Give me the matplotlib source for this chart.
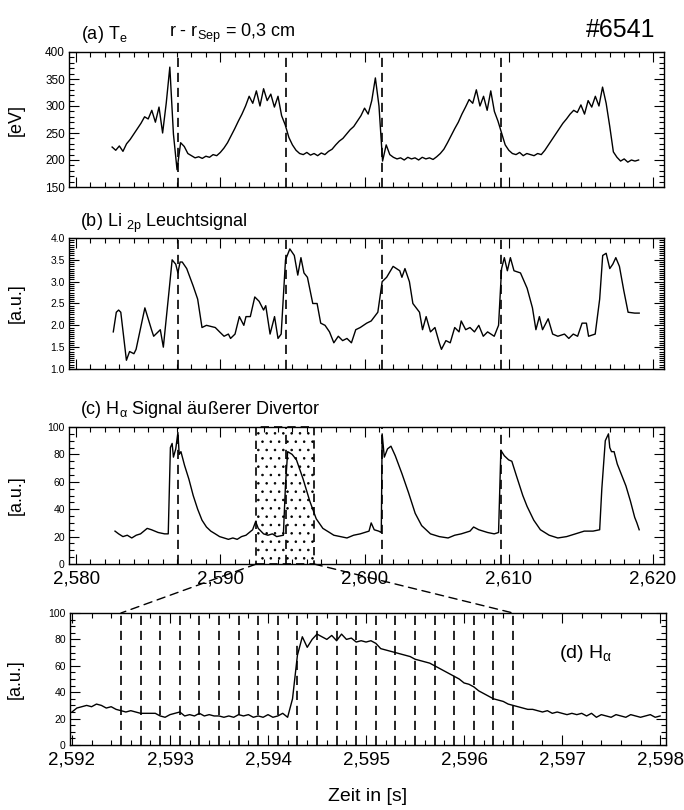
import numpy as np
import matplotlib
matplotlib.use('Agg')
import matplotlib.pyplot as plt
import matplotlib.ticker as mtick
from matplotlib.patches import Rectangle, ConnectionPatch

plt.rcParams['font.family'] = ['Liberation Sans', 'DejaVu Sans']
plt.rcParams['mathtext.fontset'] = 'custom'
plt.rcParams['mathtext.rm'] = 'Liberation Sans'
plt.rcParams['mathtext.it'] = 'Liberation Sans:italic'
plt.rcParams['hatch.linewidth'] = 0.6

T0 = 2.580  # s, time origin of the ms offsets below

# (a) Te, sampled every 0.25 ms starting at 2.5 ms
te_start_ms = 2.5
te_step_ms = 0.25
te_values = [224, 218,
             226, 216, 230, 238,
             248, 258, 268, 280,
             276, 292, 270, 298,
             250, 305, 372, 248,
             182, 232, 225, 212,
             208, 204, 206, 203,
             207, 205, 210, 208,
             214, 222, 232, 245,
             258, 272, 285, 300,
             318, 305, 328, 300,
             332, 310, 322, 298,
             318, 282, 265, 242,
             228, 218, 212, 210,
             214, 209, 212, 208,
             213, 210, 216, 220,
             228, 235, 240, 248,
             256, 262, 272, 282,
             296, 285, 310, 352,
             300, 198, 228, 210,
             205, 202, 204, 200,
             205, 202, 204, 200,
             205, 202, 204, 201,
             206, 212, 220, 232,
             245, 258, 270, 285,
             298, 312, 305, 330,
             300, 318, 292, 328,
             290, 272, 250, 228,
             218, 212, 210, 214,
             208, 212, 210, 208,
             212, 210, 218, 228,
             238, 248, 258, 268,
             276, 285, 292, 288,
             302, 285, 310, 298,
             318, 300, 335, 305,
             262, 215, 205, 198,
             202, 196, 200, 198,
             200]

# (b) Li 2p signal: (ms, value)
li_points = [(2.58, 1.85), (2.79, 2.30), (2.95, 2.35), (3.10, 2.30), (3.49, 1.20),
             (3.71, 1.40), (4.01, 1.35), (4.16, 1.45), (4.77, 2.40), (5.23, 1.90),
             (5.38, 1.75), (5.69, 1.85), (5.84, 1.90), (6.05, 1.50), (6.45, 2.80),
             (6.66, 3.50), (6.91, 3.40), (7.06, 3.20), (7.21, 3.45), (7.36, 3.45),
             (7.67, 3.30), (8.12, 2.90), (8.43, 2.60), (8.73, 1.95), (9.04, 2.00),
             (9.65, 1.95), (9.95, 1.85), (10.26, 1.75), (10.56, 1.80), (10.71, 1.70),
             (11.02, 1.80), (11.32, 2.20), (11.63, 2.00), (11.78, 2.20), (12.08, 2.20),
             (12.39, 2.65), (12.69, 2.55), (13.00, 2.35), (13.15, 2.45), (13.45, 1.80),
             (13.76, 2.20), (14.00, 1.70), (14.22, 1.80), (14.52, 3.50), (14.82, 3.75),
             (15.13, 3.60), (15.37, 3.15), (15.59, 3.55), (15.80, 3.20), (16.04, 3.10),
             (16.41, 2.50), (16.71, 2.50), (16.96, 2.05), (17.26, 2.00), (17.57, 1.85),
             (17.87, 1.60), (18.18, 1.75), (18.48, 1.65), (18.78, 1.70), (19.09, 1.60),
             (19.39, 1.90), (19.70, 1.95), (20.15, 2.05), (20.46, 2.10), (20.92, 2.30),
             (21.22, 3.00), (21.53, 3.10), (21.98, 3.35), (22.44, 3.25), (22.59, 3.10),
             (22.80, 3.30), (23.11, 3.00), (23.35, 2.50), (23.81, 2.30), (24.02, 1.90),
             (24.27, 2.20), (24.57, 1.85), (24.88, 1.95), (25.18, 1.60), (25.33, 1.45),
             (25.64, 1.65), (25.94, 1.60), (26.25, 1.95), (26.55, 1.85), (26.70, 2.10),
             (27.01, 1.90), (27.31, 1.95), (27.62, 1.85), (27.92, 2.00), (28.23, 1.75),
             (28.53, 1.85), (28.99, 1.75), (29.29, 2.00), (29.50, 3.30), (29.69, 3.55),
             (29.90, 3.25), (30.11, 3.55), (30.36, 3.25), (30.81, 3.20), (31.27, 2.85),
             (31.64, 2.40), (31.88, 1.90), (32.12, 2.20), (32.34, 1.90), (32.73, 2.15),
             (33.04, 1.80), (33.40, 1.75), (33.86, 1.80), (34.16, 1.70), (34.47, 1.80),
             (34.77, 1.75), (35.08, 2.05), (35.38, 2.05), (35.53, 1.75), (35.99, 1.80),
             (36.30, 2.60), (36.51, 3.60), (36.75, 3.65), (37.00, 3.30), (37.21, 3.40),
             (37.42, 3.55), (37.67, 3.35), (37.97, 2.80), (38.27, 2.30), (38.73, 2.28),
             (39.04, 2.28)]

# (c) H-alpha outer divertor: (ms, value)
ha_points = [(2.70, 24), (2.95, 22), (3.25, 20), (3.55, 21), (3.86, 19), (4.17, 21),
             (4.47, 22), (4.93, 26), (5.23, 25), (5.69, 23), (6.14, 22), (6.39, 22),
             (6.48, 60), (6.54, 85), (6.66, 88), (6.75, 78), (6.91, 84), (7.06, 96),
             (7.15, 80), (7.27, 82), (7.52, 72), (7.82, 62), (8.12, 50), (8.43, 40),
             (8.73, 32), (9.04, 27), (9.34, 24), (9.65, 22), (9.95, 20), (10.26, 19),
             (10.56, 18), (10.87, 19), (11.17, 18), (11.47, 20), (11.78, 21), (12.24, 25),
             (12.45, 31), (12.63, 26), (13.00, 22), (13.30, 21), (13.61, 22), (13.91, 20),
             (14.37, 21), (14.52, 58), (14.67, 82), (14.98, 80), (15.28, 76), (15.74, 62),
             (16.20, 46), (16.65, 33), (17.11, 26), (17.57, 23), (17.87, 21), (18.33, 20),
             (18.78, 19), (19.24, 21), (19.70, 22), (20.31, 24), (20.46, 30), (20.67, 25),
             (20.98, 24), (21.16, 23), (21.22, 95), (21.37, 78), (21.59, 84), (21.83, 86),
             (22.13, 79), (22.59, 66), (23.05, 52), (23.51, 37), (23.96, 28), (24.57, 22),
             (25.18, 20), (25.79, 19), (26.25, 21), (26.70, 22), (27.31, 24), (27.56, 27),
             (27.92, 25), (28.53, 23), (28.99, 22), (29.29, 23), (29.45, 83), (29.69, 79),
             (29.99, 76), (30.21, 75), (30.51, 65), (30.97, 50), (31.27, 42), (31.73, 32),
             (32.19, 25), (32.80, 21), (33.40, 19), (34.01, 20), (34.62, 22), (35.23, 24),
             (35.84, 24), (36.30, 25), (36.45, 55), (36.69, 90), (36.91, 95), (37.00, 85),
             (37.12, 82), (37.30, 82), (37.52, 73), (37.82, 65), (38.12, 57), (38.43, 46),
             (38.73, 34), (38.88, 30), (39.04, 25)]

# ELM times (dashed lines in a-c), ms
elm_ms = [7.06, 14.55, 21.2, 29.44]

# zoom window (dotted box), ms
zoom_ms = (12.5, 16.5)

# (d) H-alpha zoom, sampled every 0.05 ms starting at 2.592 s
d_start = 2.592
d_step_ms = 0.05
d_values = [25, 28, 29, 30, 29, 31, 30, 28, 29, 27,
            26, 25, 26, 25, 24, 24, 24, 24, 22, 21,
            23, 24, 25, 22, 23, 22, 24, 22, 23, 22,
            22, 21, 22, 21, 23, 22, 23, 21, 22, 21,
            23, 21, 22, 24, 21, 35, 68, 82, 74, 80,
            84, 82, 80, 83, 79, 84, 80, 81, 78, 79,
            78, 79, 77, 73, 72, 71, 70, 69, 68, 67,
            65, 64, 63, 62, 60, 58, 56, 54, 52, 50,
            47, 46, 44, 41, 39, 37, 35, 34, 33, 31,
            30, 29, 28, 27, 27, 26, 25, 26, 24, 25,
            24, 23, 24, 23, 24, 22, 24, 21, 23, 22,
            21, 23, 22, 21, 23, 22, 21, 22, 23, 21,
            22]

# frame times in (d), ms after 2.592 s
frame_ms = [0.5, 0.7, 0.9, 1.1, 1.3, 1.5, 1.7, 1.9, 2.1, 2.3, 2.5,
            2.7, 2.9, 3.1, 3.3, 3.5, 3.7, 3.9, 4.1, 4.3, 4.5]

# ---------------------------------------------------------------
te_t = T0 + (te_start_ms + te_step_ms * np.arange(len(te_values))) / 1000.0
li_t = T0 + np.array([p[0] for p in li_points]) / 1000.0
li_v = np.array([p[1] for p in li_points])
ha_t = T0 + np.array([p[0] for p in ha_points]) / 1000.0
ha_v = np.array([p[1] for p in ha_points])
d_t = d_start + d_step_ms * np.arange(len(d_values)) / 1000.0

fig = plt.figure(figsize=(6.84, 8.10), dpi=100)
W, H = 684.0, 810.0


def box(left, top, right, bottom):
    return [left / W, 1 - bottom / H, (right - left) / W, (bottom - top) / H]


ax_a = fig.add_axes(box(69, 52, 664, 187))
ax_b = fig.add_axes(box(69, 238, 664, 369))
ax_c = fig.add_axes(box(69, 427, 664, 564))
ax_d = fig.add_axes(box(70, 613, 666, 745))

xlim_top = (2.57951, 2.62076)
comma_fmt = mtick.FuncFormatter(lambda v, p: f'{v:.3f}'.replace('.', ','))

for ax in (ax_a, ax_b, ax_c, ax_d):
    ax.tick_params(which='both', direction='in', top=True, right=True,
                   width=0.8)
    ax.tick_params(which='major', length=7)
    ax.tick_params(which='minor', length=3.5)
    ax.tick_params(axis='y', labelsize=7.5, pad=3)
    ax.tick_params(axis='x', labelsize=13.5, pad=5)
    for s in ax.spines.values():
        s.set_linewidth(1.0)

for ax in (ax_a, ax_b, ax_c):
    ax.set_xlim(*xlim_top)
    ax.xaxis.set_major_locator(mtick.MultipleLocator(0.01))
    ax.xaxis.set_minor_locator(mtick.MultipleLocator(0.001))
    for t in elm_ms:
        ax.axvline(T0 + t / 1000.0, color='k', ls=(0, (5.5, 3.5)), lw=1.2)
ax_a.tick_params(axis='x', labelbottom=False)
ax_b.tick_params(axis='x', labelbottom=False)
ax_c.xaxis.set_major_formatter(comma_fmt)

# (a)
ax_a.plot(te_t, te_values, color='k', lw=1.0)
ax_a.set_ylim(150, 400)
ax_a.yaxis.set_major_locator(mtick.MultipleLocator(50))
ax_a.yaxis.set_minor_locator(mtick.MultipleLocator(10))
ax_a.tick_params(axis='y', labelsize=8.5)
ax_a.set_ylabel('[eV]', fontsize=13)
ax_a.yaxis.set_label_coords(-0.075, 0.5)
ax_a.annotate('(a) T$\\mathregular{_e}$', xy=(0.02, 1), xycoords='axes fraction',
              xytext=(0, 5), textcoords='offset points', fontsize=13, va='bottom')
ax_a.annotate('r - r$\\mathregular{_{Sep}}$ = 0,3 cm', xy=(0.168, 1),
              xycoords='axes fraction', xytext=(0, 5), textcoords='offset points',
              fontsize=13, va='bottom')
fig.text(655 / W, 1 - 30 / H, '#6541', fontsize=18, ha='right', va='center')

# (b)
ax_b.plot(li_t, li_v, color='k', lw=1.0)
ax_b.set_ylim(1.0, 4.0)
ax_b.yaxis.set_major_locator(mtick.MultipleLocator(0.5))
ax_b.yaxis.set_minor_locator(mtick.MultipleLocator(0.05))
ax_b.yaxis.set_major_formatter(mtick.FormatStrFormatter('%.1f'))
ax_b.set_ylabel('[a.u.]', fontsize=13)
ax_b.yaxis.set_label_coords(-0.075, 0.5)
ax_b.annotate('(b) Li $\\mathregular{_{2p}}$ Leuchtsignal', xy=(0.018, 1),
              xycoords='axes fraction', xytext=(0, 2), textcoords='offset points',
              fontsize=13, va='bottom')

# (c)
ax_c.plot(ha_t, ha_v, color='k', lw=1.0)
ax_c.set_ylim(0, 100)
ax_c.yaxis.set_major_locator(mtick.MultipleLocator(20))
ax_c.yaxis.set_minor_locator(mtick.MultipleLocator(5))
ax_c.set_ylabel('[a.u.]', fontsize=13)
ax_c.yaxis.set_label_coords(-0.075, 0.5)
ax_c.annotate('(c) H$\\mathregular{_{α}}$ Signal äußerer Divertor', xy=(0.018, 1),
              xycoords='axes fraction', xytext=(0, 5), textcoords='offset points',
              fontsize=13, va='bottom')
z0, z1 = T0 + zoom_ms[0] / 1000.0, T0 + zoom_ms[1] / 1000.0
ax_c.add_patch(Rectangle((z0, 0), z1 - z0, 100, facecolor='none', edgecolor='k',
                         hatch='..', ls=(0, (5, 3)), lw=1.2, clip_on=False))

# (d)
ax_d.plot(d_t, d_values, color='k', lw=1.0)
ax_d.set_xlim(2.59198, 2.59806)
ax_d.set_ylim(0, 100)
ax_d.xaxis.set_major_locator(mtick.MultipleLocator(0.001))
ax_d.xaxis.set_minor_locator(mtick.MultipleLocator(0.0002))
ax_d.xaxis.set_major_formatter(comma_fmt)
ax_d.yaxis.set_major_locator(mtick.MultipleLocator(20))
ax_d.yaxis.set_minor_locator(mtick.MultipleLocator(5))
ax_d.set_ylabel('[a.u.]', fontsize=13)
ax_d.yaxis.set_label_coords(-0.077, 0.5)
ax_d.set_xlabel('Zeit in [s]', fontsize=14, labelpad=14)
for t in frame_ms:
    ax_d.axvline(d_start + t / 1000.0, color='k', ls=(0, (5.5, 3.5)), lw=1.2)
ax_d.text(0.82, 0.69, '(d) H$\\mathregular{_{α}}$', transform=ax_d.transAxes,
          fontsize=14, va='center')

# connecting lines from the box to panel (d)
for z in (z0, z1):
    con = ConnectionPatch(xyA=(z, 0), coordsA=ax_c.transData,
                          xyB=(z, 100), coordsB=ax_d.transData,
                          color='k', ls=(0, (6, 4)), lw=1.0)
    fig.add_artist(con)

plt.savefig('out.png', dpi=100)
